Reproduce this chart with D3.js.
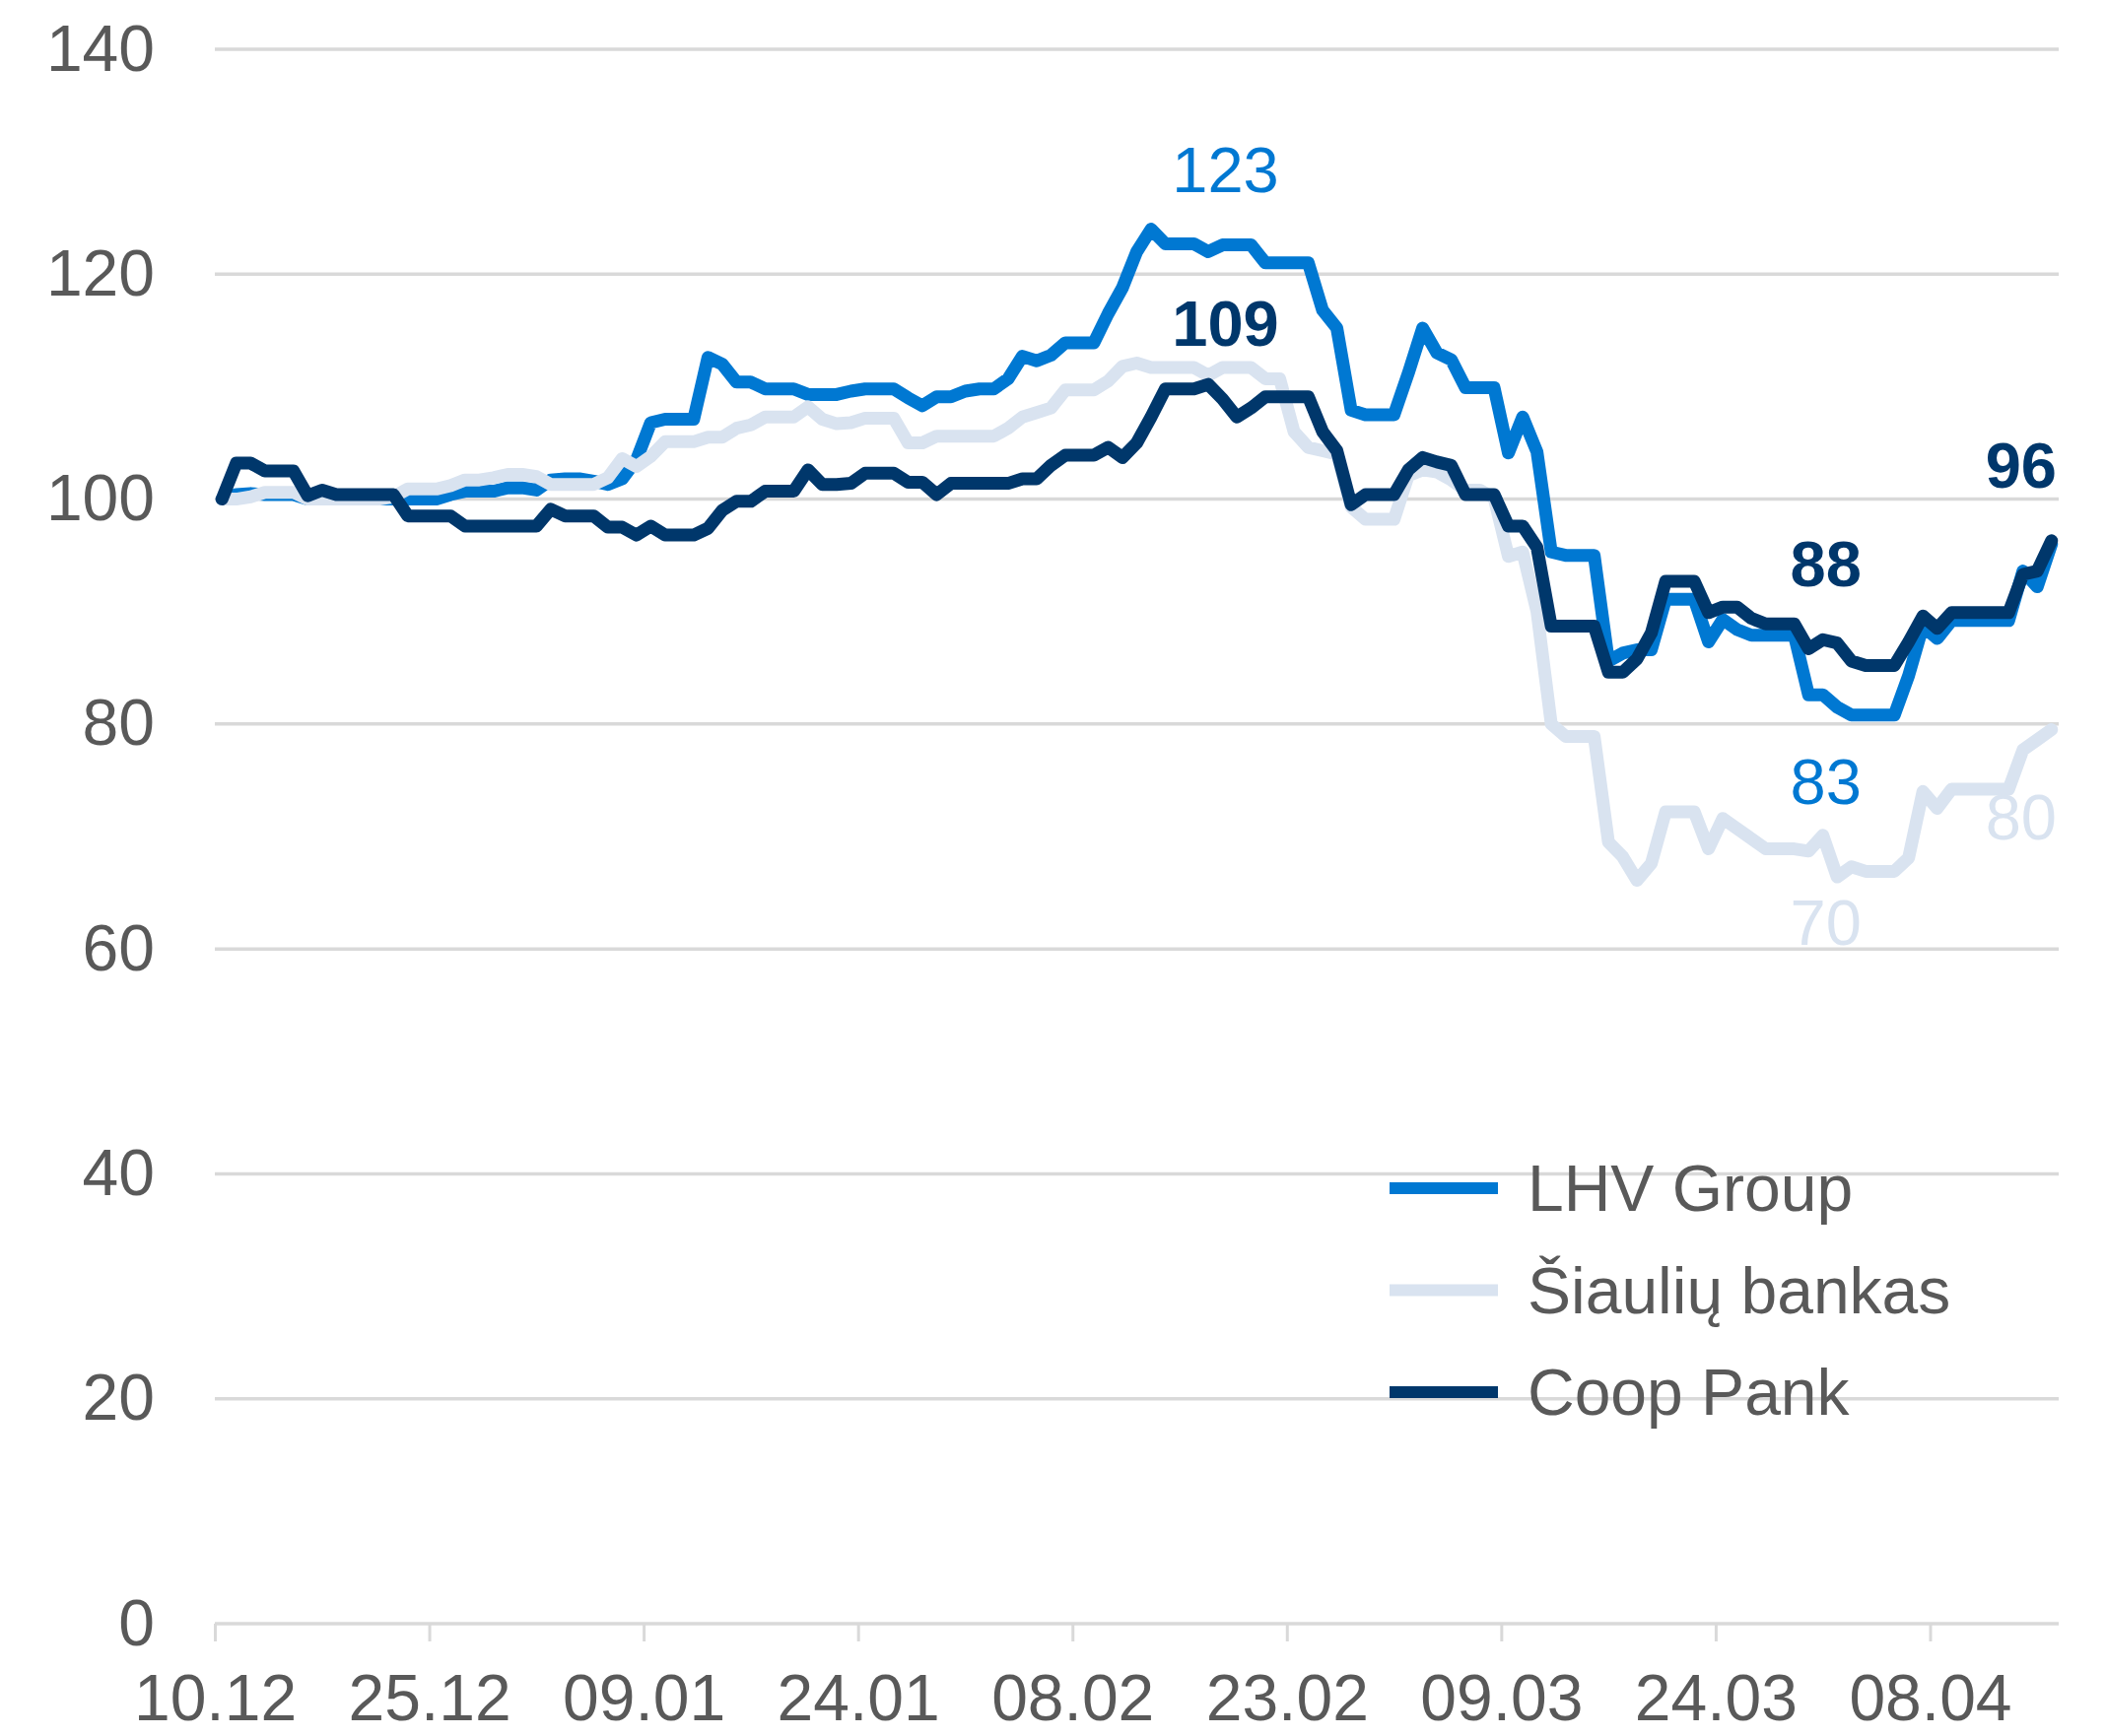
<!DOCTYPE html>
<html>
<head>
<meta charset="utf-8">
<script src="https://cdn.jsdelivr.net/npm/d3@7"></script>
<style>
  body { margin: 0; background: #fff; }
  text { font-family: "Liberation Sans", Arial, sans-serif; }
</style>
</head>
<body>
<div id="vis"></div>
<script>
// daily index values, 10.12.2023 - 16.04.2024
var startDay = new Date(2023, 11, 10);

var lhv = [100, 100.4, 100.5, 100.4, 100.4, 100.4, 100, 100, 100, 100,
  100, 100, 100, 100, 100, 100, 100.4, 100.7, 100.7, 100.7,
  101, 101, 100.8, 101.7, 101.8, 101.8, 101.6, 101.3, 101.8, 103.5,
  106.8, 107.1, 107.1, 107.1, 112.6, 112, 110.4, 110.4, 109.8, 109.8,
  109.8, 109.3, 109.3, 109.3, 109.6, 109.8, 109.8, 109.8, 109, 108.3,
  109.1, 109.1, 109.6, 109.8, 109.8, 110.7, 112.7, 112.3, 112.8, 113.9,
  113.9, 113.9, 116.5, 118.8, 122, 124, 122.7, 122.7, 122.7, 122,
  122.6, 122.6, 122.6, 121, 121, 121, 121, 116.8, 115.2, 107.9,
  107.5, 107.5, 107.5, 111.2, 115.2, 113, 112.4, 109.9, 109.9, 109.9,
  104.1, 107.3, 104.2, 95.3, 95, 95, 95, 85.6, 86.3, 86.6,
  86.6, 91.1, 91.1, 91.1, 87.3, 89.3, 88.4, 87.9, 87.9, 87.9,
  87.9, 82.6, 82.6, 81.5, 80.8, 80.8, 80.8, 80.8, 84.3, 88.7,
  87.6, 89.2, 89.2, 89.2, 89.2, 89.2, 93.6, 92.2, 96];

var siauliai = [100, 100, 100.2, 100.6, 100.6, 100.6, 100, 100, 100, 100,
  100, 100, 100.2, 100.9, 100.9, 100.9, 101.2, 101.7, 101.7, 101.9,
  102.2, 102.2, 102, 101.3, 101.3, 101.3, 101.3, 101.9, 103.6, 102.9,
  103.8, 105.1, 105.1, 105.1, 105.5, 105.5, 106.3, 106.6, 107.3, 107.3,
  107.3, 108.2, 107.1, 106.7, 106.8, 107.2, 107.2, 107.2, 105, 105,
  105.6, 105.6, 105.6, 105.6, 105.6, 106.3, 107.3, 107.7, 108.1, 109.7,
  109.7, 109.7, 110.5, 111.8, 112.1, 111.7, 111.7, 111.7, 111.7, 111,
  111.7, 111.7, 111.7, 110.7, 110.7, 106, 104.6, 104.3, 104, 99.3,
  98.2, 98.2, 98.2, 102.1, 102.6, 102.4, 101.7, 100.8, 100.8, 100.1,
  94.9, 95.3, 90, 80, 78.9, 78.9, 78.9, 69.5, 68.2, 66.1,
  67.6, 72.2, 72.2, 72.2, 68.9, 71.6, 70.7, 69.8, 68.9, 68.9,
  68.9, 68.7, 70.1, 66.4, 67.3, 66.9, 66.9, 66.9, 68.1, 74,
  72.5, 74.2, 74.2, 74.2, 74.2, 74.2, 77.7, 78.6, 79.5];

var coop = [100, 103.2, 103.2, 102.5, 102.5, 102.5, 100.3, 100.8, 100.4, 100.4,
  100.4, 100.4, 100.4, 98.5, 98.5, 98.5, 98.5, 97.6, 97.6, 97.6,
  97.6, 97.6, 97.6, 99.1, 98.5, 98.5, 98.5, 97.5, 97.5, 96.8,
  97.6, 96.8, 96.8, 96.8, 97.4, 99, 99.8, 99.8, 100.7, 100.7,
  100.7, 102.6, 101.3, 101.3, 101.4, 102.3, 102.3, 102.3, 101.5, 101.5,
  100.4, 101.4, 101.4, 101.4, 101.4, 101.4, 101.8, 101.8, 103, 103.9,
  103.9, 103.9, 104.6, 103.7, 105, 107.3, 109.8, 109.8, 109.8, 110.2,
  108.9, 107.3, 108.1, 109.1, 109.1, 109.1, 109.1, 106, 104.3, 99.5,
  100.4, 100.4, 100.4, 102.6, 103.7, 103.3, 103, 100.4, 100.4, 100.4,
  97.6, 97.6, 95.7, 88.7, 88.7, 88.7, 88.7, 84.6, 84.6, 85.8,
  88.1, 92.7, 92.7, 92.7, 89.9, 90.4, 90.4, 89.4, 88.9, 88.9,
  88.9, 86.7, 87.5, 87.2, 85.6, 85.2, 85.2, 85.2, 87.3, 89.6,
  88.5, 89.9, 89.9, 89.9, 89.9, 89.9, 93.3, 93.6, 96.3];

var seriesNames = ["LHV Group", "Šiaulių bankas", "Coop Pank"];
var seriesColours = ["#0078d2", "#d9e3f0", "#00376b"];
var xTickLabels = ["10.12", "25.12", "09.01", "24.01", "08.02", "23.02", "09.03", "24.03", "08.04"];
var yTicks = [0, 20, 40, 60, 80, 100, 120, 140];
// labelled points: [series, day index, position]
var callouts = [[0, 70, "above"], [2, 70, "above"], [2, 112, "above"], [0, 112, "below"],
  [1, 112, "below"], [2, 128, "above"], [1, 128, "below"]];

var width = 2137;
var height = 1762;
var margin = { top: 50, bottom: 114, left: 218, right: 48 };
var plotW = width - margin.left - margin.right;
var plotH = height - margin.top - margin.bottom;

var svg = d3.select('#vis')
  .append('svg')
  .attr('width', width)
  .attr('height', height)
  .append('g')
  .attr('transform', 'translate(' + margin.left + ',' + margin.top + ')');

var parseDay = d3.timeParse('%d.%m.%Y');
function tickDate(lbl) {
  return parseDay(lbl + (lbl.slice(3) === '12' ? '.2023' : '.2024'));
}

var dates = lhv.map(function(d, i) {
  return d3.timeDay.offset(startDay, i);
});

var x_scale = d3.scaleTime()
  .domain([startDay, d3.timeDay.offset(startDay, lhv.length)])
  .range([0, plotW]);

var y_scale = d3.scaleLinear()
  .domain([0, 140])
  .range([plotH, 0]);

// points sit in the middle of their day
function xPos(i) {
  return x_scale(d3.timeHour.offset(dates[i], 12));
}

// gridlines
svg.append('g')
  .selectAll('line')
  .data(yTicks)
  .enter()
  .append('line')
  .attr('x1', 0)
  .attr('x2', plotW)
  .attr('y1', function(d) { return y_scale(d); })
  .attr('y2', function(d) { return y_scale(d); })
  .attr('stroke', '#d9d9d9')
  .attr('stroke-width', 3.5);

var y_axis = d3.axisLeft(y_scale)
  .tickValues(yTicks)
  .tickSize(0)
  .tickPadding(61);

svg.append('g')
  .attr('class', 'y axis')
  .call(y_axis)
  .call(function(g) { g.select('.domain').remove(); })
  .selectAll('text')
  .style('font-size', '66px')
  .attr('fill', '#595959');

var x_axis = d3.axisBottom(x_scale)
  .tickValues(xTickLabels.map(tickDate))
  .tickFormat(function(d, i) { return xTickLabels[i]; })
  .tickSizeInner(18)
  .tickSizeOuter(0)
  .tickPadding(33);

var xg = svg.append('g')
  .attr('class', 'x axis')
  .attr('transform', 'translate(0,' + plotH + ')')
  .call(x_axis);
xg.select('.domain').remove();
xg.selectAll('.tick line')
  .attr('stroke', '#d9d9d9')
  .attr('stroke-width', 3);
xg.selectAll('text')
  .style('font-size', '66px')
  .attr('fill', '#595959');

var allSeries = [lhv, siauliai, coop];

var line = d3.line()
  .x(function(d, i) { return xPos(i); })
  .y(function(d) { return y_scale(d); });

svg.selectAll('.series')
  .data(allSeries)
  .enter()
  .append('path')
  .attr('class', 'series')
  .attr('d', line)
  .attr('fill', 'none')
  .attr('stroke', function(d, i) { return seriesColours[i]; })
  .attr('stroke-width', 13)
  .attr('stroke-linejoin', 'round')
  .attr('stroke-linecap', 'round');

// value callouts
svg.selectAll('.callout')
  .data(callouts)
  .enter()
  .append('text')
  .attr('class', 'callout')
  .attr('x', function(d) {
    return d[1] === allSeries[d[0]].length - 1 ? plotW - 2 : xPos(d[1]) + 3;
  })
  .attr('y', function(d) {
    var yy = y_scale(allSeries[d[0]][d[1]]);
    return d[2] === 'above' ? yy - 54 : yy + 111;
  })
  .attr('text-anchor', function(d) {
    return d[1] === allSeries[d[0]].length - 1 ? 'end' : 'middle';
  })
  .style('font-size', '65px')
  .style('font-weight', function(d) { return d[0] === 2 ? 'bold' : 'normal'; })
  .attr('fill', function(d) { return seriesColours[d[0]]; })
  .text(function(d) { return Math.round(allSeries[d[0]][d[1]]); });

// legend
var legend = svg.append('g')
  .attr('transform', 'translate(' + (1410 - margin.left) + ',' + (1206 - margin.top) + ')');

var items = legend.selectAll('g')
  .data(seriesNames)
  .enter()
  .append('g')
  .attr('transform', function(d, i) { return 'translate(0,' + (i * 103.5) + ')'; });

items.append('line')
  .attr('x1', 0)
  .attr('x2', 110)
  .attr('stroke', function(d, i) { return seriesColours[i]; })
  .attr('stroke-width', 12);

items.append('text')
  .attr('x', 140)
  .attr('dy', '0.35em')
  .style('font-size', '66px')
  .attr('fill', '#595959')
  .text(function(d) { return d; });
</script>
</body>
</html>
